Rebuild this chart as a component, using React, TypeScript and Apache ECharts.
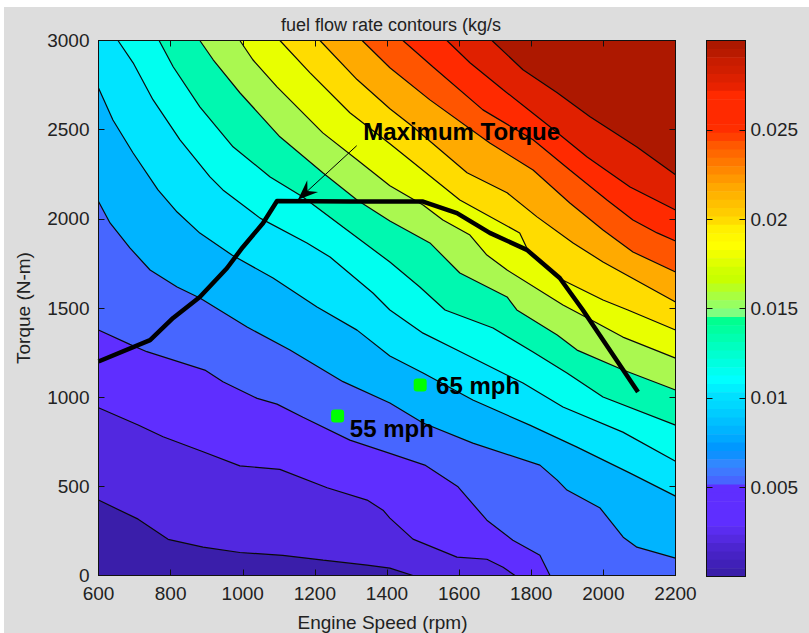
import React, { useEffect, useRef } from "react";
import * as echarts from "echarts";

const xTicks = [600, 2200];
const yTicks = [0, 3000];
const title = "fuel flow rate contours (kg/s";
const xName = "Engine Speed (rpm)";
const yName = "Torque (N-m)";
const colorbarTicks = [0.005, 0.01, 0.015, 0.02, 0.025];
const colorbarRange = [0, 0.03];

// contour lines, lowest level first: [rpm, torque]
const contour01 = [[600,423],[710,316],[793,203],[890,159],[992,129],[1111,113],[1223,86],[1345,58],[1408,41],[1472,0]];
const contour02 = [[600,941],[710,844],[779,778],[890,694],[992,615],[1103,595],[1234,492],[1345,423],[1389,366],[1408,322],[1472,204],[1594,103],[1677,91],[1722,46],[1755,0]];
const contour03 = [[600,1377],[687,1296],[734,1255],[895,1152],[945,1086],[1040,993],[1095,961],[1167,887],[1297,759],[1408,685],[1505,619],[1597,497],[1677,310],[1749,198],[1824,114],[1852,0]];
const contour04 = [[600,2097],[632,1977],[687,1837],[743,1713],[818,1618],[881,1556],[1012,1393],[1131,1264],[1278,1087],[1408,967],[1500,855],[1638,742],[1824,619],[1872,535],[1899,479],[1991,378],[2055,215],[2093,159],[2200,97]];
const contour05 = [[600,2733],[640,2554],[696,2369],[765,2162],[818,2038],[881,1920],[970,1797],[1084,1668],[1206,1506],[1317,1376],[1408,1231],[1500,1135],[1638,984],[1796,843],[1927,720],[2074,574],[2200,445]];
const contour06 = [[654,3000],[696,2875],[751,2668],[826,2443],[909,2235],[945,2162],[1048,2004],[1178,1864],[1242,1786],[1361,1584],[1408,1489],[1500,1359],[1594,1264],[1777,1079],[1888,945],[2054,804],[2200,641]];
const contour07 = [[768,3000],[807,2853],[881,2628],[973,2404],[1076,2235],[1167,2123],[1278,1954],[1408,1758],[1491,1618],[1561,1489],[1694,1388],[1805,1253],[1899,1135],[1999,1001],[2200,843]];
const contour08 = [[881,3000],[918,2892],[992,2707],[1103,2460],[1222,2258],[1317,2106],[1408,1988],[1519,1865],[1602,1696],[1733,1562],[1760,1489],[1872,1349],[1927,1264],[2055,1152],[2200,1040]];
const contour09 = [[992,3000],[1028,2892],[1095,2740],[1222,2482],[1317,2331],[1408,2185],[1500,2078],[1555,1994],[1630,1909],[1677,1797],[1733,1713],[1888,1517],[1982,1416],[2054,1337],[2200,1219]];
const contour10 = [[1103,3000],[1186,2820],[1297,2595],[1408,2421],[1602,2106],[1768,1921],[1790,1826],[1870,1674],[1999,1545],[2068,1489],[2200,1377]];
const contour11 = [[1214,3000],[1317,2781],[1408,2617],[1472,2516],[1622,2258],[1733,2146],[1816,2011],[1916,1865],[1999,1758],[2200,1534]];
const contour12 = [[1331,3000],[1408,2847],[1519,2667],[1685,2425],[1805,2274],[1907,2089],[1999,1937],[2082,1814],[2200,1702]];
const contour13 = [[1444,3000],[1527,2853],[1666,2611],[1805,2443],[1907,2274],[2010,2106],[2082,1994],[2149,1921],[2200,1876]];
const contour14 = [[1566,3000],[1630,2875],[1722,2724],[1852,2516],[1955,2347],[2074,2179],[2200,2050]];
const contour15 = [[1691,3000],[1777,2836],[1872,2707],[1963,2572],[2093,2403],[2200,2247]];
const contours = [contour01, contour02, contour03, contour04, contour05, contour06, contour07, contour08, contour09, contour10, contour11, contour12, contour13, contour14, contour15];

const bandColors = ["#3a1eaa","#5228e0","#5f2eff","#4766ff","#00b4ff","#00e4ff","#00fff0","#00f8b0","#aaf850","#e8ff00","#ffdc00","#ffaa00","#ff5500","#ff2a00","#e02000","#ad1800"];

// colour bar stripes, top to bottom
const colorbarColors = ["#ad1800","#b81a00","#c81c00","#d01e00","#dc2000","#e82200","#ff2a00","#ff2a00","#ff2a00","#ff2a00","#ff2e00","#ff4000","#ff5800","#ff6800","#ff7800","#ff8800","#ff9800","#ffa800","#ffb400","#ffc000","#ffcc00","#ffdc00","#fff000","#fff800","#ffff00","#f0ff00","#e0ff00","#d0ff00","#c8ff00","#b8ff20","#a8ff40","#98ff60","#80ff80","#00ff90","#00ffa0","#00ffb0","#00ffc0","#00ffd0","#00ffe0","#00fff0","#00ffff","#00f0ff","#00e0ff","#00d8ff","#00ccff","#00c0ff","#00b4ff","#00a8ff","#0098ff","#1090ff","#3088ff","#3f78ff","#4766ff","#5f2eff","#5f2eff","#5f2eff","#5f2eff","#5f2eff","#5a2cf0","#5429e0","#4c25d0","#4622c4","#4020b8","#3a1eaa"];

const maxTorqueCurve = [[600,1200],[743,1320],[807,1444],[881,1562],[956,1723],[1000,1841],[1056,1975],[1095,2100],[1300,2097],[1500,2097],[1594,2032],[1685,1921],[1788,1826],[1879,1668],[1943,1489],[2096,1029]];
const cruisePoints = [[1263,894],[1492,1068]];
const annotations = [
  { name: "Maximum Torque", value: [1334,2488] },
  { name: "55 mph", value: [1297,827] },
  { name: "65 mph", value: [1536,1068] },
];
const arrowTail = [1316,2410];
const arrowTip = [1153,2107];

const bg = "#dddddd";
const textColor = "#222222";
const font = "Liberation Sans";

function regionAbove(line: number[][]) {
  const [xMin, xMax] = xTicks;
  const [yMin, yMax] = yTicks;
  const first = line[0];
  const last = line[line.length - 1];
  const pts = line.slice();
  if (last[0] < xMax) pts.push([xMax, yMin]);
  pts.push([xMax, yMax]);
  if (first[0] <= xMin) pts.push([xMin, yMax]);
  return pts;
}

function baseRegion() {
  return [[xTicks[0], yTicks[0]], [xTicks[1], yTicks[0]], [xTicks[1], yTicks[1]], [xTicks[0], yTicks[1]]];
}

export default function App() {
  const ref = useRef<HTMLDivElement>(null);
  useEffect(() => {
    document.body.style.margin = "0";
    const chart = echarts.init(ref.current!, undefined, { renderer: "svg" });
    const line = { show: true, onZero: false, lineStyle: { color: "#111", width: 1 } };
    const tick = { show: true, inside: true, length: 6, lineStyle: { color: "#111" } };
    const mainAxisX = {
      type: "value", min: xTicks[0], max: xTicks[1], interval: 200, gridIndex: 0, z: 10,
      axisLine: line, axisTick: tick, splitLine: { show: false },
    };
    const mainAxisY = {
      type: "value", min: yTicks[0], max: yTicks[1], interval: 500, gridIndex: 0, z: 10,
      axisLine: line, axisTick: tick, splitLine: { show: false },
    };
    const barX = {
      type: "value", min: 0, max: 1, gridIndex: 1, z: 10,
      axisLine: line, axisTick: { show: false }, axisLabel: { show: false }, splitLine: { show: false },
    };
    const barY = {
      type: "value", min: colorbarRange[0], max: colorbarRange[1], gridIndex: 1, z: 10,
      axisLine: line, axisTick: { ...tick, customValues: colorbarTicks }, splitLine: { show: false },
    };
    const labelStyle = { color: textColor, fontFamily: font, fontSize: 19, lineHeight: 15 };
    const plain = (v: number) => String(v);
    const cellH = (colorbarRange[1] - colorbarRange[0]) / colorbarColors.length;

    chart.setOption({
      animation: false,
      backgroundColor: "transparent",
      title: {
        text: title, left: 386, top: 11, textAlign: "center",
        textStyle: { color: textColor, fontFamily: font, fontSize: 18, fontWeight: "normal" },
      },
      grid: [
        { left: 98.5, top: 40.5, width: 577, height: 535, outerBoundsMode: "none" },
        { left: 706.5, top: 40.5, width: 39, height: 536, outerBoundsMode: "none" },
      ],
      xAxis: [
        { ...mainAxisX, position: "bottom", name: xName, nameLocation: "middle", nameGap: 37,
          nameTextStyle: { color: textColor, fontFamily: font, fontSize: 19, padding: [0, 9, 0, 0] },
          axisLabel: { ...labelStyle, margin: 10, formatter: plain } },
        { ...mainAxisX, position: "top", axisLabel: { show: false } },
        { ...barX, position: "bottom" },
        { ...barX, position: "top" },
      ],
      yAxis: [
        { ...mainAxisY, position: "left", name: yName, nameLocation: "middle", nameGap: 66,
          nameTextStyle: { color: textColor, fontFamily: font, fontSize: 19 },
          axisLabel: { ...labelStyle, margin: 9, formatter: plain } },
        { ...mainAxisY, position: "right", axisLabel: { show: false } },
        { ...barY, position: "right",
          axisLabel: { ...labelStyle, margin: 5, customValues: colorbarTicks, formatter: plain } },
        { ...barY, position: "left", axisLabel: { show: false } },
      ],
      series: [
        {
          type: "custom", xAxisIndex: 0, yAxisIndex: 0, silent: true, z: 1, clip: true,
          data: bandColors.map((_, i) => [i]),
          renderItem: (params: any, api: any) => {
            const i = params.dataIndex;
            const region = i === 0 ? baseRegion() : regionAbove(contours[i - 1]);
            return {
              type: "polygon",
              shape: { points: region.map((p) => api.coord(p)) },
              style: { fill: bandColors[i] },
            };
          },
        },
        ...contours.map((c) => ({
          type: "line", xAxisIndex: 0, yAxisIndex: 0, data: c, symbol: "none", silent: true, z: 2,
          lineStyle: { color: "#0a0a0a", width: 1.2 },
        })),
        {
          type: "line", xAxisIndex: 0, yAxisIndex: 0, data: maxTorqueCurve, symbol: "none", silent: true, z: 3,
          lineStyle: { color: "#000", width: 4.5, join: "round" },
        },
        {
          type: "custom", xAxisIndex: 0, yAxisIndex: 0, silent: true, z: 3, clip: false,
          data: [arrowTail],
          renderItem: (_params: any, api: any) => {
            const tail = api.coord(arrowTail);
            const tip = api.coord(arrowTip);
            const dx = tail[0] - tip[0];
            const dy = tail[1] - tip[1];
            const len = Math.hypot(dx, dy);
            const ux = dx / len;
            const uy = dy / len;
            const at = (along: number, across: number) => [
              tip[0] + ux * along - uy * across,
              tip[1] + uy * along + ux * across,
            ];
            return {
              type: "group",
              children: [
                { type: "line", shape: { x1: tail[0], y1: tail[1], x2: tip[0], y2: tip[1] },
                  style: { stroke: "#000", lineWidth: 1 } },
                { type: "polygon", shape: { points: [at(0, 0), at(20, 8), at(13, 0), at(20, -8)] },
                  style: { fill: "#000" } },
              ],
            };
          },
        },
        {
          type: "scatter", xAxisIndex: 0, yAxisIndex: 0, data: cruisePoints, symbol: "roundRect", symbolSize: 13,
          silent: true, z: 4, itemStyle: { color: "#00ff00", opacity: 1 },
        },
        {
          type: "scatter", xAxisIndex: 0, yAxisIndex: 0, data: annotations, symbolSize: 0, silent: true, z: 5,
          itemStyle: { opacity: 1 },
          label: {
            show: true, position: "right", distance: 0, formatter: "{b}", opacity: 1,
            color: "#000", fontFamily: font, fontWeight: "bold", fontSize: 24,
          },
        },
        {
          type: "custom", xAxisIndex: 2, yAxisIndex: 2, silent: true, z: 1, clip: true,
          data: colorbarColors.map((_, i) => [i]),
          renderItem: (params: any, api: any) => {
            const i = params.dataIndex;
            const top = api.coord([0, colorbarRange[1] - i * cellH]);
            const bot = api.coord([1, colorbarRange[1] - (i + 1) * cellH]);
            return {
              type: "rect",
              shape: { x: top[0], y: top[1], width: bot[0] - top[0], height: bot[1] - top[1] + 0.5 },
              style: { fill: colorbarColors[i] },
            };
          },
        },
      ],
    });
    return () => chart.dispose();
  }, []);
  return (
    <div style={{ position: "absolute", left: 0, top: 0, width: 809, height: 633, background: "#ffffff", overflow: "hidden" }}>
      <div style={{ position: "absolute", left: 4, top: 7, right: 0, bottom: 0, background: bg }} />
      <div ref={ref} style={{ position: "absolute", left: 0, top: 0, width: 809, height: 633 }} />
    </div>
  );
}
